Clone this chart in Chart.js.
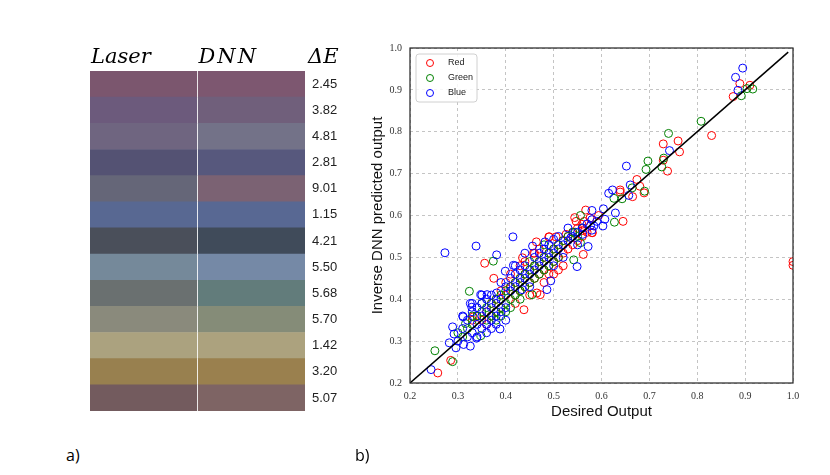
<!DOCTYPE html>
<html>
<head>
<meta charset="utf-8">
<script src="https://cdn.jsdelivr.net/npm/chart.js@4"></script>
<style>
  body { margin: 0; background: #fff; }
  #wrap { position: relative; width: 830px; height: 475px; overflow: hidden; }
  canvas { position: absolute; }
  .lab { position: absolute; font-family: "Open Sans", "Liberation Sans", sans-serif; font-size: 16px; color: #000; }
</style>
</head>
<body>
<div id="wrap">
  <canvas id="swatch" width="360" height="430" style="left:0;top:0"></canvas>
  <canvas id="scatter" width="475" height="475" style="left:355px;top:0"></canvas>
  <div class="lab" style="left:66px;top:444px">a)</div>
  <div class="lab" style="left:355px;top:444px">b)</div>
</div>
<script>
// colonnes du tableau de couleurs
var headers = ['Laser', 'DNN', '\u0394E'];
var deltaE = ['2.45', '3.82', '4.81', '2.81', '9.01', '1.15', '4.21', '5.50', '5.68', '5.70', '1.42', '3.20', '5.07'];
var laserColors = ['#7b566e', '#6c5a7c', '#6f6580', '#545273', '#656678', '#586892', '#4a4f5a',
                   '#75899a', '#6a7070', '#8a8a7c', '#aba27f', '#98804f', '#735b5e'];
var dnnColors = ['#7d5770', '#705f7b', '#737288', '#57587d', '#7b6273', '#586893', '#404b5a',
                 '#7589a6', '#627c7b', '#858c78', '#aca27e', '#9a804e', '#7e6464'];

// pontos do grafico de dispersao [desejado, predito]
var redPoints = [
  [0.875,0.884],[0.889,0.915],[0.910,0.911],[0.830,0.791],[0.729,0.771],[0.760,0.778],[0.763,0.752],
  [0.729,0.732],[0.738,0.706],[0.674,0.686],[0.680,0.670],[0.689,0.654],[0.665,0.645],[0.639,0.661],
  [0.639,0.656],[0.645,0.586],[0.567,0.613],[0.544,0.595],[0.547,0.586],[0.564,0.586],[0.576,0.594],
  [0.594,0.600],[0.559,0.579],[0.561,0.564],[0.580,0.559],[0.526,0.555],[0.505,0.549],[0.490,0.549],
  [0.356,0.486],[0.375,0.450],[0.435,0.499],[0.438,0.375],[0.285,0.254],[0.258,0.224],[0.332,0.358],
  [0.472,0.411],[0.465,0.415],[0.562,0.507],[0.581,0.559],[0.491,0.549],[0.464,0.537],[0.458,0.510],
  [1.0,0.490],[1.0,0.481],
  [0.34,0.36],[0.35,0.35],[0.36,0.37],[0.37,0.39],[0.38,0.40],[0.39,0.38],[0.40,0.41],[0.41,0.43],
  [0.42,0.41],[0.42,0.44],[0.43,0.45],[0.43,0.42],[0.44,0.46],[0.44,0.43],[0.45,0.47],[0.45,0.44],
  [0.46,0.45],[0.46,0.48],[0.47,0.49],[0.47,0.46],[0.48,0.47],[0.48,0.50],[0.49,0.48],[0.49,0.51],
  [0.50,0.52],[0.50,0.49],[0.51,0.53],[0.51,0.50],[0.52,0.54],[0.52,0.51],[0.53,0.55],[0.53,0.52],
  [0.54,0.56],[0.54,0.53],[0.55,0.57],[0.55,0.54],[0.56,0.55],[0.57,0.56],[0.41,0.46],[0.44,0.49],
  [0.46,0.51],[0.39,0.42],[0.37,0.36],[0.42,0.39],[0.48,0.44],[0.50,0.46],[0.52,0.48],[0.36,0.34],
  [0.33,0.35],[0.38,0.37],[0.40,0.44],[0.43,0.48],[0.47,0.52],[0.49,0.46],[0.51,0.47],[0.45,0.41]
];
var greenPoints = [
  [0.892,0.886],[0.904,0.903],[0.916,0.902],[0.808,0.825],[0.740,0.796],[0.730,0.737],[0.726,0.716],
  [0.697,0.730],[0.693,0.710],[0.690,0.658],[0.664,0.666],[0.643,0.640],[0.626,0.641],[0.627,0.584],
  [0.556,0.600],[0.545,0.560],[0.374,0.491],[0.324,0.419],[0.348,0.313],[0.252,0.277],[0.289,0.251],
  [0.316,0.342],[0.455,0.411],[0.542,0.494],[0.556,0.535],
  [0.30,0.32],[0.31,0.31],[0.32,0.33],[0.33,0.34],[0.34,0.36],[0.35,0.37],[0.36,0.38],[0.37,0.39],
  [0.37,0.36],[0.38,0.40],[0.38,0.37],[0.39,0.38],[0.39,0.41],[0.40,0.39],[0.40,0.42],[0.41,0.43],
  [0.41,0.40],[0.42,0.44],[0.42,0.41],[0.43,0.45],[0.43,0.42],[0.44,0.46],[0.44,0.43],[0.45,0.47],
  [0.45,0.44],[0.46,0.48],[0.46,0.45],[0.47,0.49],[0.47,0.46],[0.48,0.50],[0.48,0.47],[0.49,0.51],
  [0.49,0.48],[0.50,0.52],[0.50,0.49],[0.51,0.53],[0.51,0.50],[0.52,0.54],[0.53,0.55],[0.54,0.56],
  [0.55,0.55],[0.56,0.57],[0.36,0.35],[0.38,0.35],[0.40,0.37],[0.35,0.39],[0.33,0.36],[0.39,0.36],
  [0.41,0.38],[0.43,0.40],[0.45,0.49],[0.48,0.53]
];
var bluePoints = [
  [0.880,0.930],[0.895,0.952],[0.885,0.899],[0.742,0.755],[0.652,0.718],[0.660,0.673],[0.657,0.648],
  [0.623,0.661],[0.615,0.653],[0.629,0.606],[0.604,0.616],[0.607,0.591],[0.603,0.575],[0.580,0.612],
  [0.590,0.586],[0.584,0.575],[0.577,0.576],[0.580,0.565],[0.415,0.549],[0.500,0.543],[0.536,0.547],
  [0.561,0.555],[0.338,0.527],[0.273,0.511],[0.381,0.506],[0.399,0.467],[0.416,0.481],[0.326,0.390],
  [0.388,0.329],[0.339,0.307],[0.326,0.288],[0.289,0.334],[0.292,0.317],[0.282,0.296],[0.296,0.284],
  [0.244,0.232],[0.312,0.292],[0.311,0.358],[0.329,0.381],[0.361,0.411],[0.348,0.411],[0.381,0.415],
  [0.434,0.423],[0.486,0.423],[0.494,0.444],[0.549,0.478],[0.572,0.526],[0.482,0.537],[0.456,0.527],
  [0.30,0.30],[0.31,0.33],[0.32,0.35],[0.32,0.31],[0.33,0.37],[0.33,0.32],[0.34,0.38],[0.34,0.34],
  [0.35,0.36],[0.35,0.39],[0.35,0.33],[0.36,0.40],[0.36,0.37],[0.36,0.34],[0.37,0.38],[0.37,0.35],
  [0.37,0.41],[0.38,0.39],[0.38,0.36],[0.38,0.34],[0.39,0.40],[0.39,0.37],[0.40,0.38],[0.40,0.43],
  [0.41,0.42],[0.41,0.45],[0.42,0.43],[0.42,0.46],[0.43,0.44],[0.43,0.47],[0.44,0.45],[0.44,0.48],
  [0.45,0.46],[0.45,0.43],[0.46,0.47],[0.46,0.50],[0.47,0.48],[0.47,0.51],[0.48,0.49],[0.48,0.52],
  [0.49,0.50],[0.49,0.53],[0.50,0.51],[0.50,0.48],[0.51,0.52],[0.51,0.55],[0.52,0.53],[0.52,0.50],
  [0.53,0.54],[0.53,0.57],[0.54,0.55],[0.55,0.56],[0.55,0.53],[0.56,0.57],[0.57,0.58],[0.58,0.59],
  [0.39,0.44],[0.42,0.48],[0.44,0.51],[0.36,0.32],[0.34,0.31],[0.37,0.33],[0.40,0.35],[0.33,0.39],
  [0.31,0.36],[0.35,0.41]
];
var idealLine = [[0.2, 0.2], [0.99, 0.99]];
var axisTicks = [0.2, 0.3, 0.4, 0.5, 0.6, 0.7, 0.8, 0.9, 1.0];

function toXY(list) {
  return list.map(function (p) { return { x: p[0], y: p[1] }; });
}

// cabecalhos em italico acima das colunas
var headerPlugin = {
  id: 'headers',
  afterDraw: function (chart) {
    var ctx = chart.ctx, x = chart.scales.x, top = chart.chartArea.top;
    ctx.save();
    ctx.fillStyle = '#000';
    ctx.font = 'italic 21px "DejaVu Serif"';
    ctx.textBaseline = 'alphabetic';
    ctx.letterSpacing = '0px';
    ctx.fillText(headers[0], x.getPixelForValue(0) + 1, top - 8);
    ctx.letterSpacing = '2px';
    ctx.fillText(headers[1], x.getPixelForValue(1) + 1, top - 8);
    ctx.letterSpacing = '0px';
    ctx.fillText(headers[2], x.getPixelForValue(2) + 3, top - 8);
    ctx.restore();
  }
};

new Chart(document.getElementById('swatch'), {
  type: 'bar',
  data: {
    labels: deltaE,
    datasets: [{
      label: headers[0],
      data: laserColors.map(function () { return [0, 0.993]; }),
      backgroundColor: laserColors
    }, {
      label: headers[1],
      data: dnnColors.map(function () { return [1.007, 2]; }),
      backgroundColor: dnnColors
    }]
  },
  options: {
    indexAxis: 'y',
    responsive: false,
    animation: false,
    devicePixelRatio: 1,
    grouped: false,
    barPercentage: 1,
    categoryPercentage: 1,
    layout: { padding: { left: 90, top: 71, bottom: 19, right: 0 } },
    plugins: { legend: { display: false }, tooltip: { enabled: false } },
    scales: {
      x: { display: false, min: 0, max: 2 },
      y: {
        position: 'right',
        grid: { display: false, drawTicks: false },
        border: { display: false },
        ticks: { padding: 7, color: '#222', font: { family: '"Liberation Sans", sans-serif', size: 13 } },
        afterFit: function (s) { s.width = 55; }
      }
    }
  },
  plugins: [headerPlugin]
});

// caixa preta em volta e legenda dentro da area
var framePlugin = {
  id: 'frame',
  afterDraw: function (chart) {
    var ctx = chart.ctx, a = chart.chartArea;
    ctx.save();
    ctx.strokeStyle = '#222';
    ctx.lineWidth = 1.2;
    ctx.strokeRect(a.left, a.top, a.right - a.left, a.bottom - a.top);

    var bx = a.left + 6, by = a.top + 6, bw = 61, bh = 48;
    ctx.fillStyle = 'rgba(255,255,255,0.85)';
    ctx.strokeStyle = '#d0d0d0';
    ctx.lineWidth = 1;
    ctx.beginPath();
    ctx.roundRect(bx, by, bw, bh, 3);
    ctx.fill();
    ctx.stroke();
    ctx.font = '9px "Liberation Sans", sans-serif';
    ctx.textBaseline = 'middle';
    var items = chart.data.datasets.filter(function (d) { return d.label; });
    items.forEach(function (d, i) {
      var cy = by + 9 + i * 15;
      ctx.strokeStyle = d.borderColor;
      ctx.beginPath();
      ctx.arc(bx + 14, cy, 3.5, 0, Math.PI * 2);
      ctx.stroke();
      ctx.fillStyle = '#222';
      ctx.fillText(d.label, bx + 32, cy);
    });
    ctx.restore();
  }
};

function pointSet(label, list, color, order) {
  return {
    label: label,
    data: toXY(list),
    showLine: false,
    borderColor: color,
    backgroundColor: 'rgba(0,0,0,0)',
    pointRadius: 4,
    pointBorderWidth: 1,
    clip: 0,
    order: order
  };
}

var tickFont = { family: '"Liberation Serif", serif', size: 10 };
var titleFont = { family: '"Liberation Sans", sans-serif', size: 15 };
var gridOpts = { color: '#c4c4c4', lineWidth: 1, drawTicks: false, borderDash: [3, 3] };
var borderOpts = { display: false, dash: [3, 3] };

new Chart(document.getElementById('scatter'), {
  type: 'scatter',
  data: {
    datasets: [
      pointSet('Red', redPoints, '#ff0000', 3),
      pointSet('Green', greenPoints, '#008000', 2),
      pointSet('Blue', bluePoints, '#0000ff', 1),
      {
        label: '',
        data: toXY(idealLine),
        showLine: true,
        borderColor: '#000',
        borderWidth: 1.5,
        pointRadius: 0,
        order: 0
      }
    ]
  },
  options: {
    responsive: false,
    animation: false,
    devicePixelRatio: 1,
    layout: { padding: { left: 10, top: 48, bottom: 50, right: 37 } },
    plugins: { legend: { display: false }, tooltip: { enabled: false } },
    scales: {
      x: {
        min: 0.2, max: 1.0,
        afterBuildTicks: function (s) { s.ticks = axisTicks.map(function (v) { return { value: v }; }); },
        ticks: { padding: 7, color: '#333', font: tickFont, callback: function (v) { return v.toFixed(1); } },
        grid: gridOpts,
        border: borderOpts,
        title: { display: true, text: 'Desired Output', color: '#111', font: titleFont },
        afterFit: function (s) { s.height = 42; }
      },
      y: {
        min: 0.2, max: 1.0,
        afterBuildTicks: function (s) { s.ticks = axisTicks.map(function (v) { return { value: v }; }); },
        ticks: { padding: 8, color: '#333', font: tickFont, callback: function (v) { return v.toFixed(1); } },
        grid: gridOpts,
        border: borderOpts,
        title: { display: true, text: 'Inverse DNN predicted output', color: '#111', font: titleFont },
        afterFit: function (s) { s.width = 45; }
      }
    }
  },
  plugins: [framePlugin]
});
</script>
</body>
</html>
